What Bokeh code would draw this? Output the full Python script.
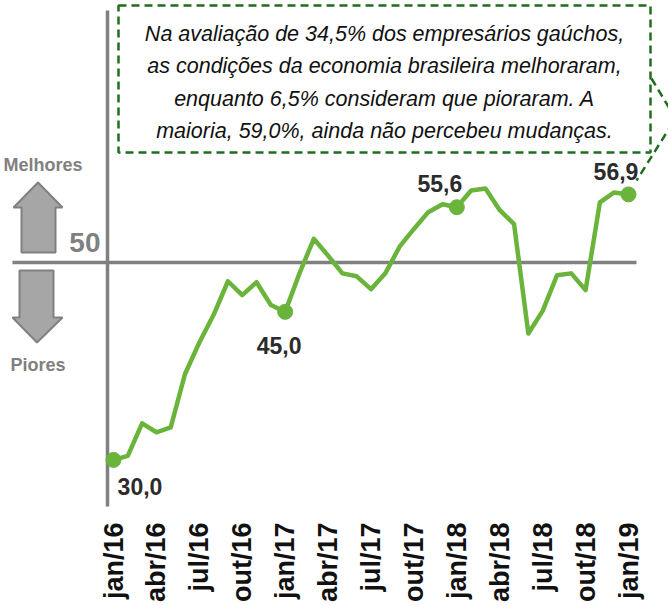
import math
from bokeh.plotting import figure
from bokeh.models import Range1d, ColumnDataSource
from bokeh.core.properties import value
from bokeh.embed import file_html
from bokeh.resources import INLINE

# ---------------- data ----------------
months = ["jan/16", "fev/16", "mar/16", "abr/16", "mai/16", "jun/16", "jul/16", "ago/16", "set/16",
          "out/16", "nov/16", "dez/16", "jan/17", "fev/17", "mar/17", "abr/17", "mai/17", "jun/17",
          "jul/17", "ago/17", "set/17", "out/17", "nov/17", "dez/17", "jan/18", "fev/18", "mar/18",
          "abr/18", "mai/18", "jun/18", "jul/18", "ago/18", "set/18", "out/18", "nov/18", "dez/18",
          "jan/19"]
values = [30.0, 30.4, 33.7, 32.8, 33.3, 38.7, 41.9, 44.7, 48.1, 46.7, 48.0, 45.7, 45.0,
          48.9, 52.4, 50.7, 48.9, 48.6, 47.3, 48.9, 51.6, 53.4, 55.1, 55.9, 55.6, 57.3,
          57.5, 55.3, 53.9, 42.8, 45.1, 48.7, 48.9, 47.2, 56.1, 57.1, 56.9]
tick_labels = ["jan/16", "abr/16", "jul/16", "out/16", "jan/17", "abr/17", "jul/17",
               "out/17", "jan/18", "abr/18", "jul/18", "out/18", "jan/19"]
highlight_idx = [0, 12, 24, 36]
highlight_text = ["30,0", "45,0", "55,6", "56,9"]
reference_level = 50
note_lines = ["Na avaliação de 34,5% dos empresários gaúchos,",
              "as condições da economia brasileira melhoraram,",
              "enquanto 6,5% consideram que pioraram. A",
              "maioria, 59,0%, ainda não percebeu mudanças."]

# ---------------- layout (pixel geometry) ----------------
W, H = 668, 605
PX0, PX_STEP = 113.0, 515.0 / 36      # px of first month, px per month
Y50_PX, PY_UNIT = 262.0, 9.87         # px of level 50, px per index point

def px2x(px):
    return (px - PX0) / PX_STEP

def py2y(py):
    return reference_level + (Y50_PX - py) / PY_UNIT

GREEN = "#6ab43c"
DKGREEN = "#1f6e1f"
GRAY = "#808080"
FONT = "Liberation Sans"

p = figure(width=W, height=H, output_backend="svg", toolbar_location=None,
           x_range=Range1d(px2x(0), px2x(W)), y_range=Range1d(py2y(H), py2y(0)),
           min_border=0, border_fill_color="white", background_fill_color="white")
p.axis.visible = False
p.grid.visible = False
p.outline_line_color = None

xs = list(range(len(values)))

# reference axes (gray)
p.segment(x0=[px2x(12)], y0=[reference_level], x1=[px2x(636)], y1=[reference_level],
          line_color=GRAY, line_width=3.5)
p.segment(x0=[px2x(107)], y0=[py2y(10)], x1=[px2x(107)], y1=[py2y(506)],
          line_color=GRAY, line_width=3.5)

# arrows
up = [(21, 252), (55, 252), (55, 207), (62, 207), (37.5, 182), (13, 207), (21, 207)]
dn = [(19, 270), (53, 270), (53, 317), (62, 317), (36.5, 342), (12, 317), (19, 317)]
p.patches(xs=[[px2x(a) for a, b in up], [px2x(a) for a, b in dn]],
          ys=[[py2y(b) for a, b in up], [py2y(b) for a, b in dn]],
          fill_color="#a6a6a6", line_color=GRAY, line_width=2)

# left texts
p.text(x=[px2x(100)], y=[py2y(242)], text=["50"], text_font=value(FONT), text_font_style="bold",
       text_font_size="28px", text_color=GRAY, text_align="right", text_baseline="middle")
p.text(x=[px2x(82), px2x(65)], y=[py2y(164), py2y(364)], text=["Melhores", "Piores"],
       text_font=value(FONT), text_font_style="bold", text_font_size="18px", text_color=GRAY,
       text_align="right", text_baseline="middle")

# series
p.line(x=xs, y=values, line_color=GREEN, line_width=4.5, line_join="round")
hx = [xs[i] for i in highlight_idx]
hy = [values[i] for i in highlight_idx]
p.scatter(x=hx, y=hy, size=15, fill_color=GREEN, line_color=GREEN)
lab_dx = [26.5, -6, -17, -12.5]
lab_dy = [27, 34, -24, -23]
src = ColumnDataSource(dict(x=hx, y=hy, t=highlight_text, dx=lab_dx, dy=lab_dy))
p.text(x="x", y="y", text="t", x_offset="dx", y_offset="dy", source=src,
       text_font=value(FONT), text_font_style="bold", text_font_size="23px",
       text_color="#2b2b2b", text_align="center", text_baseline="middle")

# x tick labels (rotated)
tick_x = [months.index(t) for t in tick_labels]
p.text(x=tick_x, y=[py2y(522)] * len(tick_x), text=tick_labels, angle=math.pi / 2,
       text_font=value(FONT), text_font_style="bold", text_font_size="27px",
       text_color="#111111", text_align="right", text_baseline="middle")

# note box
bx0, bx1, by0, by1 = 118, 650, 5, 152
p.quad(left=[px2x(bx0)], right=[px2x(bx1)], top=[py2y(by0)], bottom=[py2y(by1)],
       fill_color="white", line_color=DKGREEN, line_width=2.5, line_dash="8 5")
p.line(x=[px2x(651), px2x(675), px2x(636)], y=[py2y(78), py2y(118), py2y(180)],
       line_color=DKGREEN, line_width=2.5, line_dash="8 5")
cx = (bx0 + bx1) / 2
p.text(x=[px2x(cx)] * 4, y=[py2y(b) for b in (33, 65.5, 98, 130)], text=note_lines,
       text_font=value(FONT), text_font_style="italic", text_font_size="21.5px",
       text_color="#111111", text_align="center", text_baseline="middle")

open("out.html", "w").write(file_html(p, INLINE))
